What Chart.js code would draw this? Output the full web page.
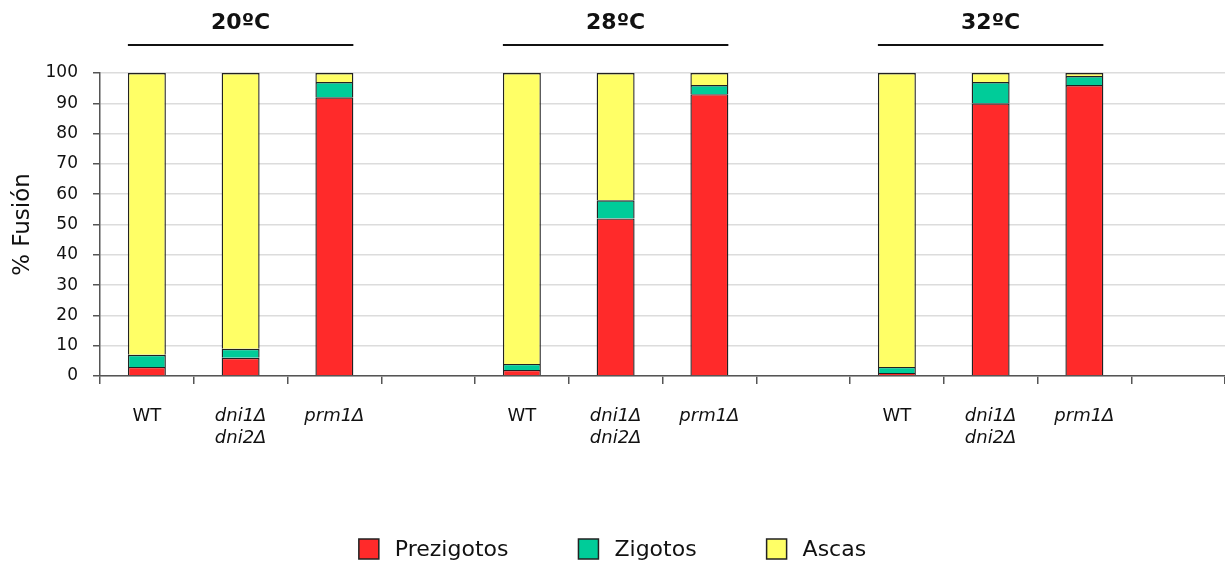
<!DOCTYPE html>
<html>
<head>
<meta charset="utf-8">
<script src="https://cdn.jsdelivr.net/npm/chart.js@4.4.1/dist/chart.umd.min.js"></script>
<style>
html,body{margin:0;padding:0;background:#fff;}
#wrap{width:1225px;height:564px;}
</style>
</head>
<body>
<div id="wrap"><canvas id="c" width="1225" height="564"></canvas></div>
<script>
const categories = ['WT', ['dni1Δ','dni2Δ'], 'prm1Δ', '', 'WT', ['dni1Δ','dni2Δ'], 'prm1Δ', '', 'WT', ['dni1Δ','dni2Δ'], 'prm1Δ', ''];
const groupTitles = ['20ºC', '28ºC', '32ºC'];
const prezigotos = [3, 6, 92, null, 2, 52, 93, null, 1, 90, 96, null];
const zigotos    = [4, 3, 5, null, 2, 6, 3, null, 2, 7, 3, null];
const ascas      = [93, 91, 3, null, 96, 42, 4, null, 97, 3, 1, null];
const seriesNames = ['Prezigotos', 'Zigotos', 'Ascas'];
const seriesColors = ['#ff2a2a', '#00cc99', '#ffff66'];
const yTicks = [0,10,20,30,40,50,60,70,80,90,100];

const FONT = '"DejaVu Sans", Verdana, sans-serif';

const groupTitlePlugin = {
  id: 'groupTitles',
  afterDraw(chart) {
    const ctx = chart.ctx;
    const meta = chart.getDatasetMeta(0);
    groupTitles.forEach((t, g) => {
      const b0 = meta.data[g*4], b2 = meta.data[g*4+2];
      const x1 = b0.x - b0.width/2, x2 = b2.x + b2.width/2;
      ctx.save();
      ctx.strokeStyle = '#111';
      ctx.lineWidth = 2;
      ctx.beginPath();
      ctx.moveTo(x1, 45);
      ctx.lineTo(x2, 45);
      ctx.stroke();
      ctx.fillStyle = '#111';
      ctx.font = 'bold 22px ' + FONT;
      ctx.textAlign = 'center';
      ctx.textBaseline = 'middle';
      ctx.fillText(t, (x1+x2)/2, 23);
      ctx.restore();
    });
  }
};

const bottomLegendPlugin = {
  id: 'bottomLegend',
  afterDraw(chart) {
    const ctx = chart.ctx;
    ctx.save();
    ctx.font = '22px ' + FONT;
    const box = 20, gapText = 16, gapItem = 70, cy = 549;
    const widths = seriesNames.map(s => ctx.measureText(s).width);
    const total = widths.reduce((a, w) => a + box + gapText + w, 0) + gapItem * (seriesNames.length - 1);
    let x = (chart.width - total) / 2;
    seriesNames.forEach((s, i) => {
      ctx.fillStyle = seriesColors[i];
      ctx.fillRect(x, cy - box/2, box, box);
      ctx.strokeStyle = '#222';
      ctx.lineWidth = 1.5;
      ctx.strokeRect(x, cy - box/2, box, box);
      ctx.fillStyle = '#111';
      ctx.textAlign = 'left';
      ctx.textBaseline = 'middle';
      ctx.fillText(s, x + box + gapText, cy + 1);
      x += box + gapText + widths[i] + gapItem;
    });
    ctx.restore();
  }
};

new Chart(document.getElementById('c'), {
  type: 'bar',
  data: {
    labels: categories,
    datasets: seriesNames.map((n, i) => ({
      label: n,
      data: [prezigotos, zigotos, ascas][i],
      backgroundColor: seriesColors[i],
      borderColor: '#222',
      borderWidth: 1.4
    }))
  },
  plugins: [groupTitlePlugin, bottomLegendPlugin],
  options: {
    responsive: false,
    animation: false,
    devicePixelRatio: 1,
    layout: {padding: {top: 73, right: 0, left: 9, bottom: 0}},
    datasets: {bar: {categoryPercentage: 1, barPercentage: 0.405}},
    scales: {
      x: {
        stacked: true,
        grid: {display: true, drawOnChartArea: false, drawTicks: true, tickLength: 8, color: '#555', lineWidth: 1.5, offset: true},
        border: {display: true, color: '#555', width: 1.5},
        ticks: {
          color: '#111',
          padding: 22,
          autoSkip: false,
          maxRotation: 0,
          font: (c) => ({family: FONT, size: 18, lineHeight: 1.2, style: (c.index % 4 === 0) ? 'normal' : 'italic'})
        },
        afterFit: (scale) => { scale.height = 188; }
      },
      y: {
        stacked: true,
        min: 0, max: 100,
        afterBuildTicks: (scale) => { scale.ticks = yTicks.map(v => ({value: v})); },
        grid: {color: '#dcdcdc', lineWidth: 1.5, tickLength: 7, tickColor: '#555'},
        border: {display: true, color: '#555', width: 1.5},
        ticks: {color: '#111', padding: 15, font: {family: FONT, size: 17}},
        title: {display: true, text: '% Fusión', color: '#111', font: {family: FONT, size: 23}, padding: {top: 0, bottom: 0}},
        afterFit: (scale) => { scale.width = 91; }
      }
    },
    plugins: {
      legend: {display: false},
      tooltip: {enabled: false}
    }
  }
});
</script>
</body>
</html>
